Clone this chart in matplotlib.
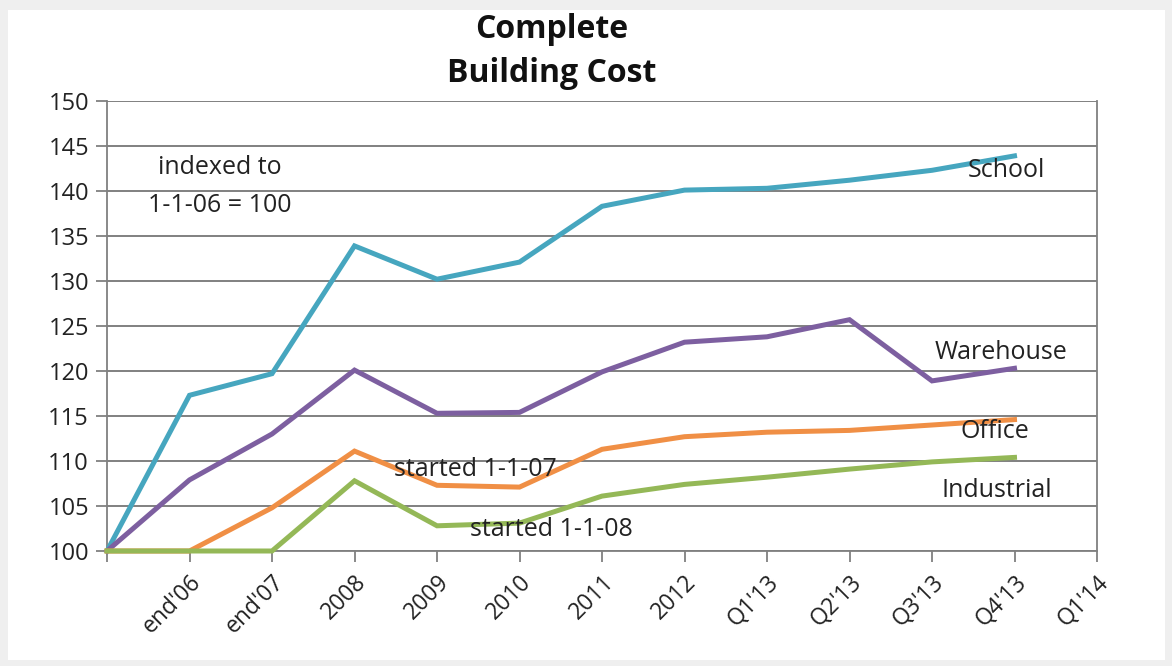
import matplotlib
matplotlib.use("Agg")
import matplotlib.pyplot as plt
from matplotlib.patches import Rectangle

# Category labels along the x axis (position 0 is the 1-1-06 base point)
tick_labels = ["end'06", "end'07", "2008", "2009", "2010", "2011", "2012",
               "Q1'13", "Q2'13", "Q3'13", "Q4'13", "Q1'14"]

# Building cost index series, indexed to 1-1-06 = 100
school = [100, 117.3, 119.7, 133.9, 130.2, 132.1, 138.3, 140.1, 140.3, 141.2, 142.3, 143.9]
warehouse = [100, 107.9, 113.0, 120.1, 115.3, 115.4, 119.9, 123.2, 123.8, 125.7, 118.9, 120.3]
office = [100, 100, 104.8, 111.1, 107.3, 107.1, 111.3, 112.7, 113.2, 113.4, 114.0, 114.6]
industrial = [100, 100, 100, 107.8, 102.8, 103.1, 106.1, 107.4, 108.2, 109.1, 109.9, 110.4]

plt.rcParams['font.family'] = ['Open Sans', 'DejaVu Sans']

fig = plt.figure(figsize=(11.72, 6.66), dpi=100)
fig.patch.set_facecolor('#efefef')
fig.patches.append(Rectangle((8 / 1172, 6 / 666), 1157 / 1172, 650 / 666,
                             transform=fig.transFigure, facecolor='white',
                             edgecolor='none', zorder=-10))

ax = fig.add_axes([107 / 1172, 1 - 551 / 666, 990 / 1172, 450 / 666])
ax.set_zorder(1)
ax.set_facecolor('white')

x = list(range(len(school)))
series = [
    (school, '#46A6BF'),
    (warehouse, '#7D5FA0'),
    (office, '#F08F45'),
    (industrial, '#94B857'),
]
for vals, col in series:
    ax.plot(x, vals, color=col, lw=3.6, solid_joinstyle='miter', zorder=3,
            clip_on=False)

ax.set_xlim(0, 12)
ax.set_ylim(100, 150)
ax.set_yticks(range(100, 151, 5))
ax.set_xticks(range(1, 13))
ax.set_xticks([0], minor=True)
ax.set_xticklabels(tick_labels, rotation=45, ha='right', rotation_mode='anchor',
                   fontsize=16.5, color='#222222')
ax.tick_params(axis='x', which='both', direction='out', length=8, width=1.3,
               color='#808080', pad=6)
ax.tick_params(axis='y', direction='out', length=8, width=1.3, color='#808080',
               labelsize=17, labelcolor='#222222', pad=5)
ax.grid(axis='y', color='#808080', lw=1.4, zorder=1)
for side in ['left', 'right', 'bottom']:
    ax.spines[side].set_color('#808080')
    ax.spines[side].set_linewidth(1.3)
ax.spines['top'].set_visible(False)

fig.text(552 / 1172, 1 - 30 / 666, "Complete", ha='center', va='center',
         fontsize=23, fontweight='bold', color='#111111')
fig.text(552 / 1172, 1 - 74 / 666, "Building Cost", ha='center', va='center',
         fontsize=23, fontweight='bold', color='#111111')

note_kw = dict(ha='center', va='center', fontsize=18, color='#222222', zorder=4)
ax.text(1.37, 142.6, "indexed to", **note_kw)
ax.text(1.37, 138.4, "1-1-06 = 100", **note_kw)
ax.text(10.9, 142.3, "School", **note_kw)
ax.text(10.84, 122.1, "Warehouse", **note_kw)
ax.text(10.76, 113.3, "Office", **note_kw)
ax.text(10.79, 106.7, "Industrial", **note_kw)
ax.text(4.46, 109.0, "started 1-1-07", **note_kw)
ax.text(5.39, 102.4, "started 1-1-08", **note_kw)

fig.savefig("out.png", dpi=100, facecolor=fig.get_facecolor())
